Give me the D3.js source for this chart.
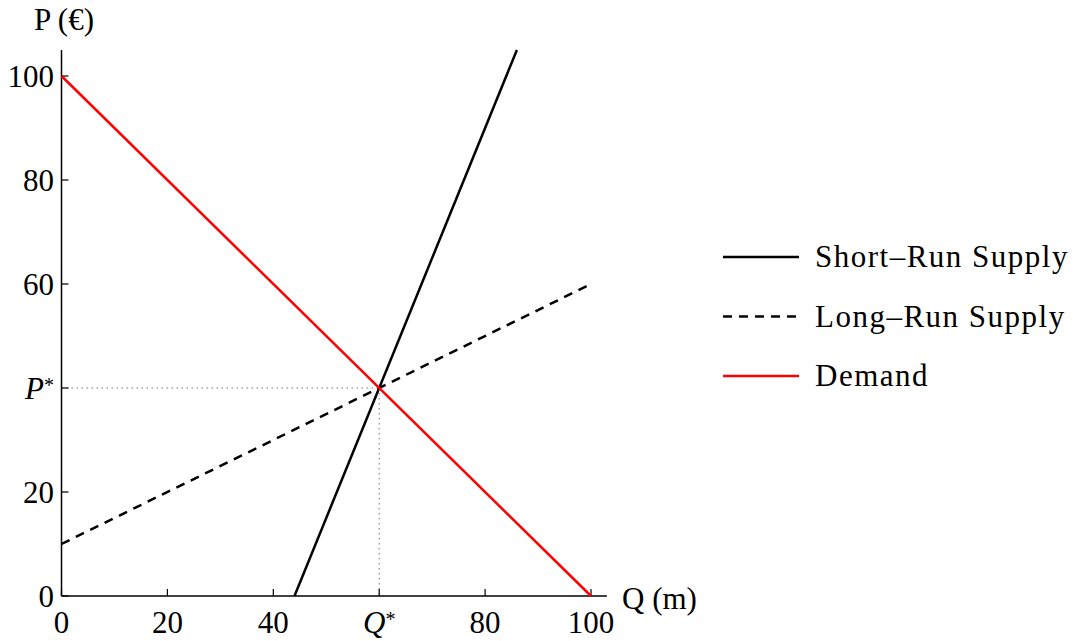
<!doctype html>
<html>
<head>
    <title> supply and demand </title>
    <script src="https://d3js.org/d3.v7.min.js"></script>
    <style>
        body { margin: 0; background: #fff; }
        text { font-family: "Liberation Serif", serif; font-size: 31px; fill: #000; }
    </style>
</head>
<body>
<script>
    // data
    var demandQ = [0, 100], demandP = [100, 0];
    var longRunQ = [0, 100], longRunP = [10, 60];
    var shortRunQ = [44, 86], shortRunP = [0, 105];
    var xTicks = [0, 20, 40, 60, 80, 100];
    var xTickLabels = ["0", "20", "40", "Q*", "80", "100"];
    var yTicks = [0, 20, 40, 60, 80, 100];
    var yTickLabels = ["0", "20", "P*", "60", "80", "100"];
    var eqQ = 60, eqP = 40;
    var legendNames = ["Short\u2013Run Supply", "Long\u2013Run Supply", "Demand"];

    var svg = d3.select("body").append("svg")
        .attr("width", 1073).attr("height", 641);

    var x = d3.scaleLinear().domain([0, 100]).range([61.5, 591]);
    var y = d3.scaleLinear().domain([0, 100]).range([596, 76]);

    // dotted guides to the equilibrium
    svg.append("line")
        .attr("x1", x(0)).attr("x2", x(eqQ)).attr("y1", y(eqP)).attr("y2", y(eqP))
        .attr("stroke", "#777").attr("stroke-width", 1).attr("stroke-dasharray", "1.5,3.5");
    svg.append("line")
        .attr("x1", x(eqQ)).attr("x2", x(eqQ)).attr("y1", y(eqP)).attr("y2", y(0))
        .attr("stroke", "#777").attr("stroke-width", 1).attr("stroke-dasharray", "1.5,3.5");

    // axes
    svg.append("line").attr("x1", x(0)).attr("x2", x(0)).attr("y1", y(0)).attr("y2", y(105))
        .attr("stroke", "#000").attr("stroke-width", 1.5);
    svg.append("line").attr("x1", x(0)).attr("x2", x(103)).attr("y1", y(0)).attr("y2", y(0))
        .attr("stroke", "#000").attr("stroke-width", 1.5);

    svg.selectAll(".xtick").data(xTicks).enter().append("line")
        .attr("x1", function(d){ return x(d); }).attr("x2", function(d){ return x(d); })
        .attr("y1", y(0)).attr("y2", y(0) - 7)
        .attr("stroke", "#000").attr("stroke-width", 1.2);
    svg.selectAll(".ytick").data(yTicks).enter().append("line")
        .attr("x1", x(0)).attr("x2", x(0) + 7)
        .attr("y1", function(d){ return y(d); }).attr("y2", function(d){ return y(d); })
        .attr("stroke", "#000").attr("stroke-width", 1.2);

    function label(sel, s) {
        if (s.indexOf("*") > 0) {
            sel.append("tspan").style("font-style", "italic").text(s[0]);
            sel.append("tspan").attr("font-size", "20px").attr("dy", -7).text("*");
        } else {
            sel.text(s);
        }
    }

    svg.selectAll(".xlab").data(xTicks).enter().append("text")
        .attr("x", function(d){ return x(d); }).attr("y", 633)
        .attr("text-anchor", "middle")
        .each(function(d, i){ label(d3.select(this), xTickLabels[i]); });
    svg.selectAll(".ylab").data(yTicks).enter().append("text")
        .attr("x", 54).attr("y", function(d){ return y(d) + 11; })
        .attr("text-anchor", "end")
        .each(function(d, i){ label(d3.select(this), yTickLabels[i]); });

    svg.append("text").attr("x", 34).attr("y", 30).text("P (\u20ac)");
    svg.append("text").attr("x", 622).attr("y", 609).text("Q (m)");

    // curves
    var line = d3.line().x(function(d){ return x(d[0]); }).y(function(d){ return y(d[1]); });
    svg.append("path").datum(d3.zip(longRunQ, longRunP)).attr("d", line)
        .attr("fill", "none").attr("stroke", "#000").attr("stroke-width", 2.5)
        .attr("stroke-dasharray", "9,7");
    svg.append("path").datum(d3.zip(shortRunQ, shortRunP)).attr("d", line)
        .attr("fill", "none").attr("stroke", "#000").attr("stroke-width", 2.5);
    svg.append("path").datum(d3.zip(demandQ, demandP)).attr("d", line)
        .attr("fill", "none").attr("stroke", "#f00").attr("stroke-width", 2.5);

    // legend
    var legendStyles = [
        { color: "#000", dash: null },
        { color: "#000", dash: "9,7" },
        { color: "#f00", dash: null }
    ];
    var legend = svg.selectAll(".leg").data(legendNames).enter().append("g")
        .attr("transform", function(d, i){ return "translate(723," + (257 + i * 59.5) + ")"; });
    legend.append("line").attr("x1", 0).attr("x2", 76)
        .attr("stroke", function(d, i){ return legendStyles[i].color; })
        .attr("stroke-width", 2.5)
        .attr("stroke-dasharray", function(d, i){ return legendStyles[i].dash; });
    legend.append("text").attr("x", 92).attr("y", 10)
        .style("letter-spacing", "1.5px")
        .text(function(d){ return d; });
</script>
</body>
</html>
